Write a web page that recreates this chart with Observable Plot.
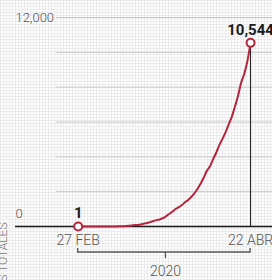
<!DOCTYPE html>
<html>
<head>
<meta charset="utf-8">
<script src="https://cdn.jsdelivr.net/npm/d3@7"></script>
<script src="https://cdn.jsdelivr.net/npm/@observablehq/plot@0.6"></script>
<style>
  html, body { margin: 0; padding: 0; overflow: hidden; }
  body {
    width: 272px; height: 280px;
    background-color: #ffffff;
    background-image:
      linear-gradient(to right, #ececec 1px, transparent 1px),
      linear-gradient(to bottom, #ececec 1px, transparent 1px);
    background-size: 3px 3px;
    font-family: Roboto, "Noto Sans", sans-serif;
  }
  #chart svg { overflow: visible; background: transparent; }
</style>
</head>
<body>
<div id="chart"></div>
<script>
// ---- data ----
const dates = [
  "2020-02-27","2020-02-28","2020-02-29","2020-03-01","2020-03-02","2020-03-03","2020-03-04","2020-03-05",
  "2020-03-06","2020-03-07","2020-03-08","2020-03-09","2020-03-10","2020-03-11","2020-03-12","2020-03-13",
  "2020-03-14","2020-03-15","2020-03-16","2020-03-17","2020-03-18","2020-03-19","2020-03-20","2020-03-21",
  "2020-03-22","2020-03-23","2020-03-24","2020-03-25","2020-03-26","2020-03-27","2020-03-28","2020-03-29",
  "2020-03-30","2020-03-31","2020-04-01","2020-04-02","2020-04-03","2020-04-04","2020-04-05","2020-04-06",
  "2020-04-07","2020-04-08","2020-04-09","2020-04-10","2020-04-11","2020-04-12","2020-04-13","2020-04-14",
  "2020-04-15","2020-04-16","2020-04-17","2020-04-18","2020-04-19","2020-04-20","2020-04-21","2020-04-22"
];
const cases = [
  1, 4, 4, 5, 5, 5, 5, 5,
  6, 7, 7, 7, 7, 8, 12, 26,
  41, 53, 82, 93, 118, 164, 203, 251,
  316, 367, 405, 475, 585, 717, 848, 993,
  1094, 1215, 1378, 1510, 1688, 1890, 2143, 2439,
  2785, 3181, 3441, 3844, 4219, 4661, 5014, 5399,
  5847, 6297, 6875, 7497, 8261, 8772, 9501, 10544
];
const yGridTicks = [2000, 4000, 6000, 8000, 10000, 12000];
const yLabelTicks = [0, 12000];
const xTickDates = ["2020-02-27", "2020-04-22"];
const xTickLabels = ["27 FEB", "22 ABR"];
const yearLabel = "2020";
const yearTickDate = "2020-03-26";
const axisTitle = "CASOS TOTALES";
const xDomain = ["2020-02-07", "2020-04-29"];
const gridStart = "2020-02-20";

// ---- build ----
const parse = d3.utcParse("%Y-%m-%d");
const data = dates.map((d, i) => ({date: parse(d), value: cases[i]}));
const first = data[0], last = data[data.length - 1];
const ends = [first, last];
const fmt = d3.format(",");
const red = "#b3263e";
const font = "Roboto, 'Noto Sans', sans-serif";

const plot = Plot.plot({
  width: 272,
  height: 280,
  marginLeft: 15,
  marginRight: 0,
  marginTop: 17,
  marginBottom: 54,
  style: {background: "transparent", fontFamily: font, overflow: "visible"},
  x: {type: "utc", domain: xDomain.map(parse), axis: null},
  y: {domain: [0, 12000], axis: null},
  marks: [
    Plot.ruleY(yGridTicks, {y: d => d, x1: parse(gridStart), x2: parse(xDomain[1]), stroke: "#c8c8c8", strokeWidth: 1}),
    Plot.ruleY([0], {stroke: "#1a1a1a", strokeWidth: 1.5}),
    Plot.ruleX([last], {x: "date", y1: 0, y2: "value", stroke: "#1a1a1a", strokeWidth: 1}),
    Plot.lineY(data, {x: "date", y: "value", stroke: red, strokeWidth: 2, curve: "monotone-x"}),
    Plot.dot(ends, {x: "date", y: "value", r: 4, fill: "white", stroke: red, strokeWidth: 2}),
    Plot.text(ends, {x: "date", y: "value", text: d => fmt(d.value), dy: -13, fontSize: 15, fontWeight: "bold", fill: "#1a1a1a"}),
    Plot.text(yLabelTicks.filter(v => v === 12000), {x: parse(xDomain[0]), y: d => d, text: d => fmt(d), textAnchor: "start", fontSize: 13, fontWeight: 300, fill: "#555"}),
    Plot.text(yLabelTicks.filter(v => v === 0), {x: parse(xDomain[0]), y: d => d, text: d => fmt(d), textAnchor: "start", dy: -13, fontSize: 13, fontWeight: 300, fill: "#555"}),
    Plot.text(xTickDates, {x: d => parse(d), y: 0, text: (d, i) => xTickLabels[i], dy: 14, fontSize: 14, fontWeight: 300, fill: "#555"}),
    Plot.text([axisTitle], {x: parse(xDomain[0]), y: 0, text: d => d, dx: -12, dy: -4, rotate: -90, textAnchor: "end", fontSize: 12, fontWeight: 300, fill: "#777"})
  ]
});

// bracket below the axis, positioned with the plot's own scales
const sx = plot.scale("x"), sy = plot.scale("y");
const svg = d3.select(plot.tagName.toLowerCase() === "svg" ? plot : plot.querySelector("svg"));
const y0 = sy.apply(0);
const xa = sx.apply(parse(xTickDates[0])), xb = sx.apply(parse(xTickDates[1]));
const xm = sx.apply(parse(yearTickDate));
const g = svg.append("g").attr("fill", "none").attr("stroke", "#555").attr("stroke-width", 1.3);
g.append("path").attr("d", `M${xa},${y0 + 22}V${y0 + 26}H${xb}V${y0 + 22}`);
g.append("path").attr("d", `M${xm},${y0 + 26}V${y0 + 32}`);
svg.append("text")
  .attr("x", xm).attr("y", y0 + 50)
  .attr("text-anchor", "middle")
  .attr("font-size", 14).attr("font-weight", 300)
  .attr("fill", "#555").attr("font-family", font)
  .text(yearLabel);

document.getElementById("chart").appendChild(plot);
</script>
</body>
</html>
